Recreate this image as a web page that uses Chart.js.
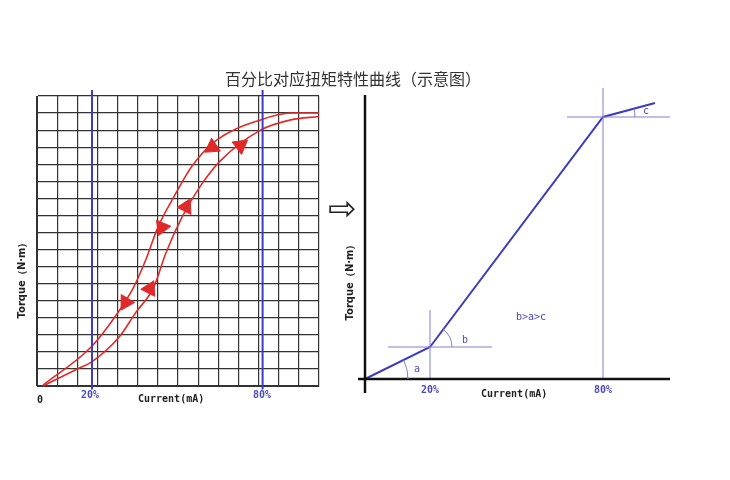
<!DOCTYPE html>
<html>
<head>
<meta charset="utf-8">
<script src="https://cdn.jsdelivr.net/npm/chart.js@4"></script>
<style>
  body { margin: 0; background: #fff; }
  #wrap { position: relative; width: 730px; height: 480px; }
  canvas { position: absolute; left: 0; top: 0; }
  .t { position: absolute; white-space: nowrap; font-family: "DejaVu Sans Mono", monospace; font-weight: bold; font-size: 10px; color: #222; }
  .b { color: #4a4ac8; }
  .rot { transform: translate(-50%, -50%) rotate(-90deg); font-family: "DejaVu Sans", sans-serif; }
</style>
</head>
<body>
<div id="wrap">
  <canvas id="left" width="730" height="480"></canvas>
  <canvas id="right" width="730" height="480"></canvas>
  <div class="t" style="left:225px;top:66px;font:16px 'Noto Sans CJK SC';font-weight:normal;color:#333">百分比对应扭矩特性曲线（示意图）</div>
  <div class="t rot" style="left:22px;top:278px">Torque（N·m）</div>
  <div class="t" style="left:37px;top:394px">0</div>
  <div class="t b" style="left:81px;top:389px">20%</div>
  <div class="t" style="left:138px;top:393px">Current(mA)</div>
  <div class="t b" style="left:253px;top:389px">80%</div>
  <div class="t" style="left:328px;top:188px;font:34px 'DejaVu Sans';font-weight:normal">⇨</div>
  <div class="t rot" style="left:350px;top:280px">Torque（N·m）</div>
  <div class="t b" style="left:421px;top:384px">20%</div>
  <div class="t" style="left:481px;top:388px">Current(mA)</div>
  <div class="t b" style="left:594px;top:384px">80%</div>
  <div class="t b" style="left:414px;top:363px;font-weight:normal">a</div>
  <div class="t b" style="left:462px;top:334px;font-weight:normal">b</div>
  <div class="t b" style="left:643px;top:105px;font-weight:normal">c</div>
  <div class="t b" style="left:516px;top:311px;font-weight:normal">b&gt;a&gt;c</div>
</div>
<script>
// Left panel: hysteresis curves on a 14 x 17 grid
const outerX = [0.3, 2.7, 3.9, 4.8, 5.4, 6.0, 6.8, 7.7, 8.9, 11.1, 12.6, 14];
const outerY = [0.05, 2.3, 4.1, 5.8, 7.4, 9.3, 11.1, 12.9, 14.4, 15.6, 16.0, 16.0];
const innerX = [0.3, 2.0, 2.7, 4.1, 4.9, 5.8, 6.4, 7.2, 8.1, 9.1, 11.1, 12.6, 14];
const innerY = [0.0, 1.0, 1.4, 2.9, 4.3, 5.8, 7.8, 9.9, 11.7, 13.2, 15.0, 15.6, 15.8];
const downArrowX = [8.7, 6.2, 4.4];
const downArrowY = [14.0, 9.3, 4.9];
const downArrowRot = [236, 203, 211];
const upArrowX = [10.1, 7.4, 5.6];
const upArrowY = [14.1, 10.5, 5.7];
const upArrowRot = [53, 27, 27];
const markerX = [2.73, 11.2];   // 20% and 80%

// Right panel: linearised characteristic
const lineX = [0, 65, 238, 290];
const lineY = [0, 32, 262, 276];

const RED = '#e02a2a';
const BLUE = '#3c3cc0';
const LIGHT = '#7f7fd2';

const pts = (xs, ys) => xs.map((x, i) => ({ x, y: ys[i] }));
const seg = (x1, y1, x2, y2) => [{ x: x1, y: y1 }, { x: x2, y: y2 }];

const lineDs = (data, color, width, extra) => Object.assign({
    data, borderColor: color, borderWidth: width, pointRadius: 0,
    fill: false, clip: false
}, extra || {});

const arrowDs = (xs, ys, rot) => ({
    data: pts(xs, ys), pointStyle: 'triangle', pointRadius: 9,
    pointRotation: rot, pointBackgroundColor: RED, pointBorderColor: RED,
    showLine: false, clip: false
});

new Chart(document.getElementById('left'), {
    type: 'scatter',
    data: {
        datasets: [
            lineDs(seg(markerX[0], -0.2, markerX[0], 17.35), BLUE, 2, { showLine: true }),
            lineDs(seg(markerX[1], -0.2, markerX[1], 17.35), BLUE, 2, { showLine: true }),
            lineDs(pts(outerX, outerY), RED, 1.6, { showLine: true, cubicInterpolationMode: 'monotone' }),
            lineDs(pts(innerX, innerY), RED, 1.6, { showLine: true, cubicInterpolationMode: 'monotone' }),
            arrowDs(downArrowX, downArrowY, downArrowRot),
            arrowDs(upArrowX, upArrowY, upArrowRot)
        ]
    },
    options: {
        responsive: false, animation: false, events: [],
        layout: { padding: { left: 37, top: 96, right: 411, bottom: 94 } },
        plugins: { legend: { display: false }, tooltip: { enabled: false } },
        scales: {
            x: { type: 'linear', min: 0, max: 14, ticks: { display: false, stepSize: 1 },
                 grid: { color: '#333', lineWidth: 1.2, drawTicks: false },
                 border: { color: '#333' } },
            y: { type: 'linear', min: 0, max: 17, ticks: { display: false, stepSize: 1 },
                 grid: { color: '#333', lineWidth: 1.2, drawTicks: false },
                 border: { color: '#333' } }
        }
    }
});

// small angle arcs at the knee points
const arcPlugin = {
    id: 'arcs',
    afterDatasetsDraw(chart) {
        const { ctx, scales: { x, y } } = chart;
        const arcs = [
            { i: 0, r: 43 },
            { i: 1, r: 22 },
            { i: 2, r: 32 }
        ];
        ctx.save();
        ctx.strokeStyle = LIGHT;
        ctx.lineWidth = 1;
        arcs.forEach(a => {
            const cx = x.getPixelForValue(lineX[a.i]);
            const cy = y.getPixelForValue(lineY[a.i]);
            const nx = x.getPixelForValue(lineX[a.i + 1]);
            const ny = y.getPixelForValue(lineY[a.i + 1]);
            const ang = Math.atan2(ny - cy, nx - cx);
            ctx.beginPath();
            ctx.arc(cx, cy, a.r, ang, 0);
            ctx.stroke();
        });
        ctx.restore();
    }
};

new Chart(document.getElementById('right'), {
    type: 'scatter',
    data: {
        datasets: [
            lineDs(seg(0, -14, 0, 284), '#111', 2.5, { showLine: true }),
            lineDs(seg(-7, 0, 305, 0), '#111', 2.5, { showLine: true }),
            lineDs(seg(23, lineY[1], 127, lineY[1]), LIGHT, 1, { showLine: true }),
            lineDs(seg(lineX[1], 0, lineX[1], 69), LIGHT, 1, { showLine: true }),
            lineDs(seg(202, lineY[2], 305, lineY[2]), LIGHT, 1, { showLine: true }),
            lineDs(seg(lineX[2], 0, lineX[2], 291), LIGHT, 1, { showLine: true }),
            lineDs(pts(lineX, lineY), BLUE, 2, { showLine: true })
        ]
    },
    options: {
        responsive: false, animation: false, events: [],
        layout: { padding: { left: 365, top: 95, right: 60, bottom: 101 } },
        plugins: { legend: { display: false }, tooltip: { enabled: false } },
        scales: {
            x: { type: 'linear', min: 0, max: 305, display: false },
            y: { type: 'linear', min: 0, max: 284, display: false }
        }
    },
    plugins: [arcPlugin]
});
</script>
</body>
</html>
